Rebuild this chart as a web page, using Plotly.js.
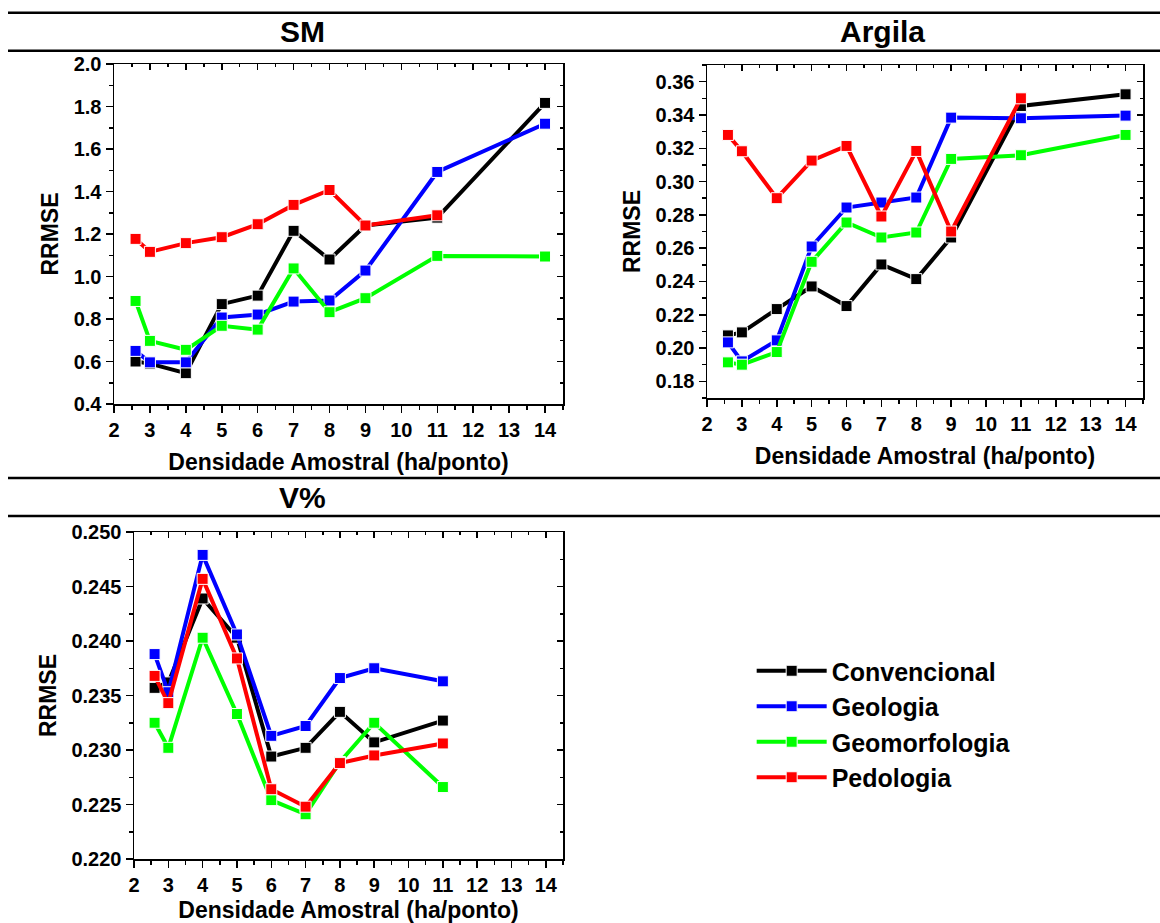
<!DOCTYPE html>
<html>
<head>
<meta charset="utf-8">
<script src="https://cdn.plot.ly/plotly-3.0.1.min.js"></script>
<style>html,body{margin:0;padding:0;background:#fff;}#chart{width:1160px;height:923px;}</style>
</head>
<body>
<div id="chart"></div>
<script>
// ---- Data ----
const seriesNames = ["Convencional", "Geologia", "Geomorfologia", "Pedologia"];
const seriesColors = ["#000000", "#0000FF", "#00FF00", "#FF0000"];
const panelTitles = ["SM", "Argila", "V%"];
const xTitle = "Densidade Amostral (ha/ponto)";
const yTitle = "RRMSE";
const xDens = [2.6, 3, 4, 5, 6, 7, 8, 9, 11, 14];

// SM
const smConv = [0.600, 0.590, 0.545, 0.870, 0.910, 1.215, 1.080, 1.240, 1.277, 1.817];
const smGeol = [0.650, 0.596, 0.596, 0.807, 0.821, 0.882, 0.887, 1.028, 1.492, 1.719];
const smGeom = [0.885, 0.697, 0.655, 0.768, 0.750, 1.038, 0.832, 0.898, 1.097, 1.094];
const smPedo = [1.177, 1.116, 1.157, 1.185, 1.246, 1.337, 1.407, 1.240, 1.288];

// Argila
const argConv = [0.2076, 0.2094, 0.2234, 0.2370, 0.2252, 0.2502, 0.2414, 0.2664, 0.3454, 0.3524];
const argGeol = [0.2034, 0.1920, 0.2046, 0.2610, 0.2844, 0.2874, 0.2904, 0.3384, 0.3380, 0.3396];
const argGeom = [0.1914, 0.1900, 0.1976, 0.2518, 0.2754, 0.2664, 0.2694, 0.3136, 0.3158, 0.3280];
const argPedo = [0.3280, 0.3182, 0.2900, 0.3126, 0.3214, 0.2790, 0.3184, 0.2700, 0.3500];

// V%
const vConv = [0.2357, 0.2362, 0.2439, 0.2403, 0.2294, 0.2302, 0.2335, 0.2307, 0.2327];
const vGeol = [0.2388, 0.2353, 0.2479, 0.2406, 0.2313, 0.2322, 0.2366, 0.2375, 0.2363];
const vGeom = [0.2325, 0.2302, 0.2403, 0.2333, 0.2254, 0.2241, 0.2289, 0.2325, 0.2266];
const vPedo = [0.2368, 0.2343, 0.2457, 0.2384, 0.2264, 0.2248, 0.2288, 0.2295, 0.2306];

const panels = [
  {xa: "x", ya: "y", data: [smConv, smGeol, smGeom, smPedo]},
  {xa: "x2", ya: "y2", data: [argConv, argGeol, argGeom, argPedo]},
  {xa: "x3", ya: "y3", data: [vConv, vGeol, vGeom, vPedo]}
];

const FONT = "Liberation Sans, Arial, sans-serif";
const traces = [];
panels.forEach((p, pi) => {
  p.data.forEach((vals, si) => {
    traces.push({
      type: "scatter", mode: "lines+markers",
      x: xDens.slice(0, vals.length), y: vals,
      xaxis: p.xa, yaxis: p.ya,
      name: seriesNames[si],
      showlegend: pi === 0,
      line: {color: seriesColors[si], width: 4},
      marker: {symbol: "square", size: 11, color: seriesColors[si], line: {color: "#ffffff", width: 1}},
      hoverinfo: "x+y"
    });
  });
});
// empty helper traces so the mirrored frame axes (top/right) are drawn
[["x4", "y4"], ["x5", "y5"], ["x6", "y6"]].forEach(([xa, ya]) => {
  traces.push({type: "scatter", mode: "markers", x: [], y: [], xaxis: xa, yaxis: ya, showlegend: false, hoverinfo: "skip"});
});

const W = 1160, H = 923;
function dx(a, b) { return [a / W, b / W]; }
function dy(top, bottom) { return [1 - bottom / H, 1 - top / H]; }

const tickFont = {family: FONT, size: 20, color: "#000", weight: "bold"};
const titleFont = {family: FONT, size: 23, color: "#000", weight: "bold"};

function xAxis(domain, anchor, standoff) {
  return {
    domain: domain, anchor: anchor, range: [2, 14.5], dtick: 1, tick0: 2,
    showgrid: false, zeroline: false, showline: true, linecolor: "#000", linewidth: 1.5,
    ticks: "outside", ticklen: 7, tickwidth: 1.5, tickcolor: "#000",
    minor: {ticks: "outside", ticklen: 4, tickwidth: 1.5, tickcolor: "#000", dtick: 0.5, showgrid: false},
    tickfont: tickFont, fixedrange: true,
    title: {text: xTitle, font: titleFont, standoff: standoff}
  };
}
function yAxis(domain, anchor, range, dtick, fmt, standoff) {
  return {
    domain: domain, anchor: anchor, range: range, dtick: dtick, tick0: 0, tickformat: fmt,
    showgrid: false, zeroline: false, showline: true, linecolor: "#000", linewidth: 1.5,
    ticks: "outside", ticklen: 7, tickwidth: 1.5, tickcolor: "#000",
    minor: {ticks: "outside", ticklen: 4, tickwidth: 1.5, tickcolor: "#000", dtick: dtick / 2, showgrid: false},
    tickfont: tickFont, fixedrange: true,
    title: {text: yTitle, font: titleFont, standoff: standoff}
  };
}
function xMirror(over, anchor, domain) {
  return {
    overlaying: over, anchor: anchor, side: "top", domain: domain, range: [2, 14.5], dtick: 1, tick0: 2,
    showgrid: false, zeroline: false, showline: true, linecolor: "#000", linewidth: 1.5,
    ticks: "inside", ticklen: 6, tickwidth: 1.5, tickcolor: "#000",
    minor: {ticks: "inside", ticklen: 3, tickwidth: 1.5, tickcolor: "#000", dtick: 0.5, showgrid: false},
    showticklabels: false, fixedrange: true
  };
}
function yMirror(over, anchor, domain, range, dtick) {
  return {
    overlaying: over, anchor: anchor, side: "right", domain: domain, range: range, dtick: dtick, tick0: 0,
    showgrid: false, zeroline: false, showline: true, linecolor: "#000", linewidth: 1.5,
    ticks: "inside", ticklen: 6, tickwidth: 1.5, tickcolor: "#000",
    minor: {ticks: "inside", ticklen: 3, tickwidth: 1.5, tickcolor: "#000", dtick: dtick / 2, showgrid: false},
    showticklabels: false, fixedrange: true
  };
}

const d1x = dx(114, 563), d1y = dy(64, 404);
const d2x = dx(707, 1143), d2y = dy(65, 398);
const d3x = dx(134, 563), d3y = dy(532, 859);
const r1 = [0.4, 2.0], r2 = [0.17, 0.37], r3 = [0.22, 0.25];

const layout = {
  width: W, height: H,
  margin: {l: 0, r: 0, t: 0, b: 0},
  paper_bgcolor: "#fff", plot_bgcolor: "#fff",
  font: {family: FONT, color: "#000"},
  showlegend: true,
  legend: {
    x: 0.648, y: 1 - 648 / H, xanchor: "left", yanchor: "top",
    font: {family: FONT, size: 25, color: "#000", weight: "bold"},
    bgcolor: "rgba(0,0,0,0)", borderwidth: 0, tracegroupgap: 0, itemwidth: 70
  },
  xaxis: xAxis(d1x, "y", 14),
  yaxis: yAxis(d1y, "x", r1, 0.2, ".1f", 8),
  xaxis2: xAxis(d2x, "y2", 14),
  yaxis2: yAxis(d2y, "x2", r2, 0.02, ".2f", 8),
  xaxis3: xAxis(d3x, "y3", 14),
  yaxis3: yAxis(d3y, "x3", r3, 0.005, ".3f", 8),
  xaxis4: xMirror("x", "y4", d1x),
  yaxis4: yMirror("y", "x4", d1y, r1, 0.2),
  xaxis5: xMirror("x2", "y5", d2x),
  yaxis5: yMirror("y2", "x5", d2y, r2, 0.02),
  xaxis6: xMirror("x3", "y6", d3x),
  yaxis6: yMirror("y3", "x6", d3y, r3, 0.005),
  shapes: [12.7, 50.7, 478, 516].map(py => ({
    type: "line", xref: "paper", yref: "paper", x0: 8 / W, x1: 1, y0: 1 - py / H, y1: 1 - py / H,
    line: {color: "#000", width: 2.5}
  })),
  annotations: [
    {text: panelTitles[0], x: 302 / W, y: 1 - 31.5 / H},
    {text: panelTitles[1], x: 882 / W, y: 1 - 31.5 / H},
    {text: panelTitles[2], x: 302 / W, y: 1 - 497 / H}
  ].map(a => Object.assign(a, {
    xref: "paper", yref: "paper", xanchor: "center", yanchor: "middle", showarrow: false,
    font: {family: FONT, size: 30, color: "#000", weight: "bold"}
  }))
};

Plotly.newPlot("chart", traces, layout, {displayModeBar: false, staticPlot: true});
</script>
</body>
</html>
